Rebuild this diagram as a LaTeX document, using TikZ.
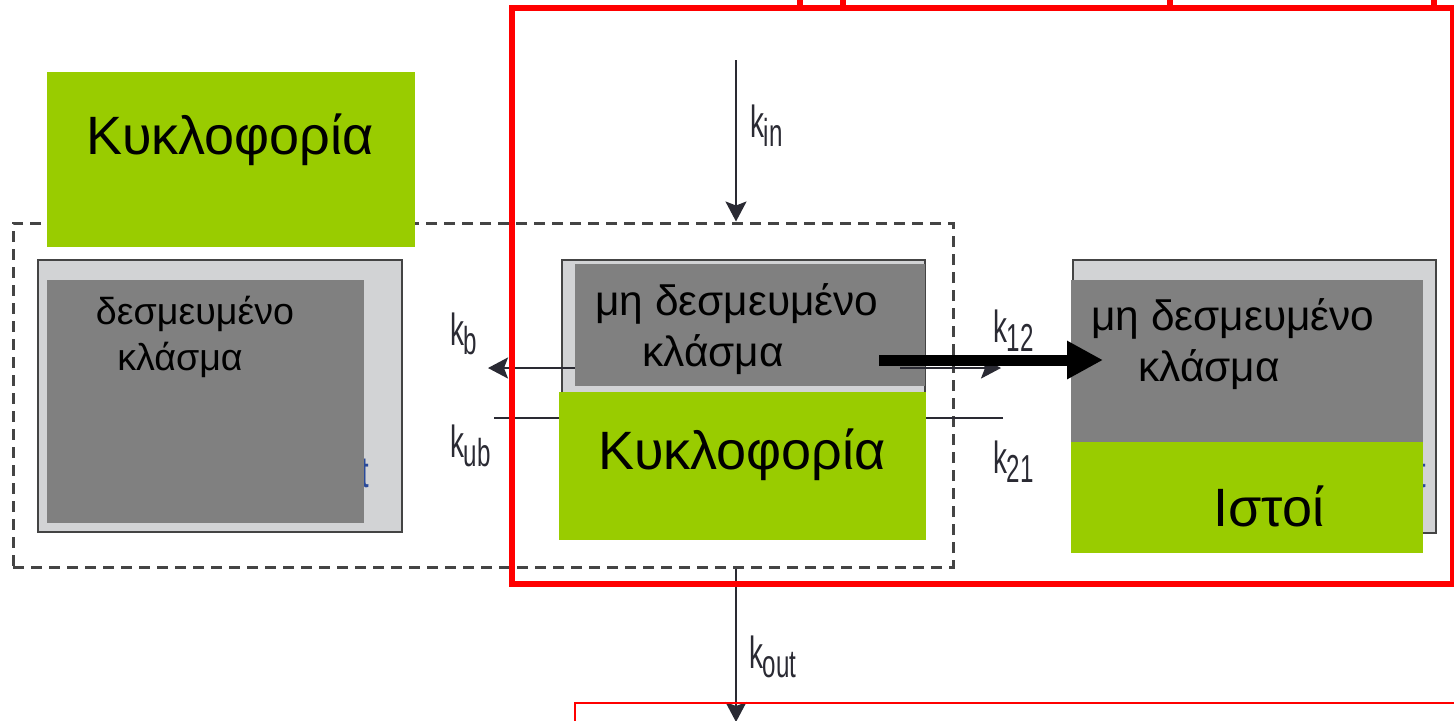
\documentclass[tikz,border=0pt]{standalone}
\usepackage{fontspec}
\setmainfont{Liberation Sans}
\usetikzlibrary{arrows.meta}
\definecolor{lime}{HTML}{99CC00}
\definecolor{dgray}{HTML}{808080}
\definecolor{lgray}{HTML}{D2D3D5}
\definecolor{bord}{HTML}{444444}
\definecolor{kcol}{HTML}{2A2A33}
\definecolor{fblue}{HTML}{2A4A9A}
\definecolor{red0}{HTML}{FF0000}
\newcommand{\klab}[1]{\scalebox{0.62}[1]{\fontsize{22.5}{22.5}\selectfont k\raisebox{-4.5pt}{\fontsize{19.5}{19.5}\selectfont #1}}}
\newcommand{\bigtxt}{\fontsize{27}{27}\selectfont}
\newcommand{\midtxt}{\fontsize{21.2}{21.2}\selectfont}
\newcommand{\smtxt}{\fontsize{18.8}{18.8}\selectfont}
\begin{document}
\begin{tikzpicture}[x=0.5pt,y=-0.5pt,
  outerbox/.style={draw=bord,line width=1.4pt,fill=lgray,inner sep=0pt,outer sep=0pt},
  innerbox/.style={fill=dgray,inner sep=0pt,outer sep=0pt},
  greenbox/.style={fill=lime,inner sep=0pt,outer sep=0pt},
  txt/.style={inner sep=0pt,outer sep=0pt,anchor=base,text=black},
  klabel/.style={inner sep=0pt,outer sep=0pt,anchor=base west,text=kcol},
  thinarr/.style={draw=kcol,line width=1.1pt,-{Stealth[length=10pt,width=10.5pt,inset=2pt]}},
  thinline/.style={draw=kcol,line width=1.1pt},
  dashbox/.style={draw=bord,line width=1.5pt,dash pattern=on 5.5pt off 3.5pt},
  redbox/.style={draw=red0,line width=3pt},
  thickarr/.style={draw=black,line width=5.5pt,-{Triangle[length=18pt,width=18pt]}}]
\useasboundingbox (0,0) rectangle (1454,720);

% dashed frame
\node[dashbox,inner sep=0pt,minimum width=470pt,minimum height=172pt] (dash) at (483,395) {};

% left box
\node[outerbox,minimum width=182pt,minimum height=136pt] (lout) at (220,396) {};
\node[inner sep=0pt,anchor=base east,text=fblue] (lfrag) at (369,487) {\scalebox{0.62}[1]{\fontsize{22}{22}\selectfont t}};
\node[innerbox,minimum width=158.5pt,minimum height=121.5pt] (lin) at (205.5,401.5) {};
\node[txt] (lt1) at (195,324) {\smtxt δεσμευμένο};
\node[txt] (lt2) at (180,370) {\smtxt κλάσμα};

% middle box
\node[outerbox,minimum width=181.5pt,minimum height=136pt] (mout) at (743.5,396) {};
\coordinate (kbA) at (600,368);
\coordinate (kbB) at (488,368);
\draw[thinarr] (kbA) -- (kbB);
\coordinate (kubA) at (494,418);
\coordinate (kubB) at (600,418);
\draw[thinline] (kubA) -- (kubB);
\node[innerbox,minimum width=175pt,minimum height=61pt] (min) at (750,325) {};
\node[txt] (mt1) at (737,315) {\midtxt μη δεσμευμένο};
\node[txt] (mt2) at (713,366) {\midtxt κλάσμα};

% right side arrows
\coordinate (k12A) at (900,368);
\coordinate (k12B) at (1001,368);
\draw[thinarr] (k12A) -- (k12B);
\coordinate (k21A) at (1003,418);
\coordinate (k21B) at (900,418);
\draw[thinline] (k21A) -- (k21B);

% middle green
\node[greenbox,minimum width=183.5pt,minimum height=74pt] (mgreen) at (742.5,466) {};
\node[txt] (mg) at (742,469) {\bigtxt Κυκλοφορία};

% right box
\node[outerbox,minimum width=181.5pt,minimum height=136.5pt] (rout) at (1254.5,396.5) {};
\node[inner sep=0pt,anchor=base east,text=fblue] (rfrag) at (1426,487) {\scalebox{0.62}[1]{\fontsize{22}{22}\selectfont t}};
\node[innerbox,minimum width=176pt,minimum height=81pt] (rin) at (1247,361) {};
\node[greenbox,minimum width=176pt,minimum height=55.5pt] (rgreen) at (1247,497.5) {};
\node[txt] (rt1) at (1233,330) {\midtxt μη δεσμευμένο};
\node[txt] (rt2) at (1209,381) {\midtxt κλάσμα};
\node[txt] (rg) at (1269,526) {\bigtxt Ιστοί};

% top-left green
\node[greenbox,minimum width=184pt,minimum height=87.5pt] (tgreen) at (231,159.5) {};
\node[txt] (tg) at (230,154) {\bigtxt Κυκλοφορία};

% k_in and k_out
\coordinate (kinS) at (736,60);
\draw[thinarr] (kinS) -- (dash.north -| kinS);
\coordinate (koutE) at (736,722);
\draw[thinarr] (dash.south -| koutE) -- (koutE);

% k labels
\node[klabel] (lkin) at (750,137) {\klab{in}};
\node[klabel] (lkout) at (749,668) {\klab{out}};
\node[klabel] (lkb) at (450,345) {\klab{b}};
\node[klabel] (lkub) at (450,457) {\klab{ub}};
\node[klabel] (lk12) at (993,342) {\klab{12}};
\node[klabel] (lk21) at (993,473) {\klab{21}};

% red frames
\node[redbox,inner sep=0pt,minimum width=470.5pt,minimum height=288pt] (redA) at (982.5,296) {};
\coordinate (rbR) at (1460,703);
\coordinate (rbC) at (575,703);
\coordinate (rbB) at (575,730);
\draw[draw=red0,line width=1pt] (rbR) -- (rbC) -- (rbB);
\foreach \xx in {800,843,1170,1434}{
  \fill[red0] (\xx-3,-2) rectangle (\xx+3,6);
}

% thick arrow
\coordinate (thA) at (879,360);
\coordinate (thB) at (1103,360);
\draw[thickarr] (thA) -- (thB);
\end{tikzpicture}
\end{document}
